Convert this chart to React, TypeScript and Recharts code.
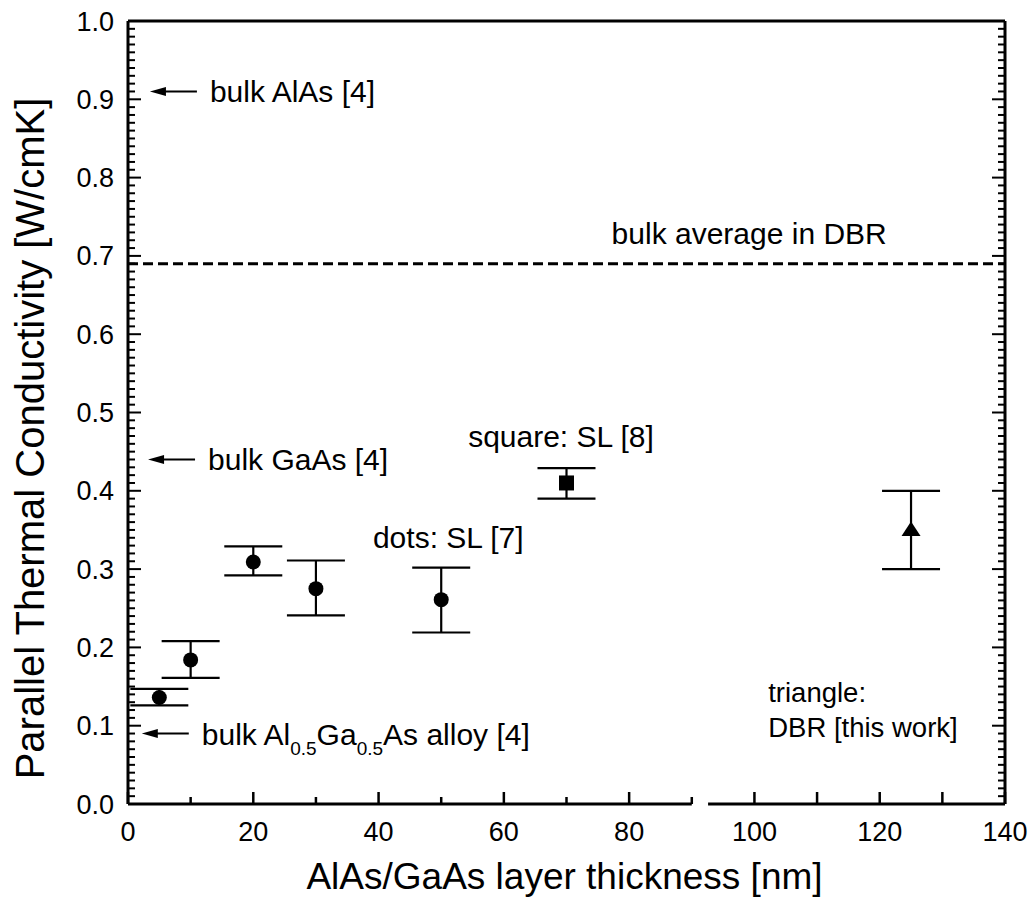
import React from 'react';
import { ScatterChart, Scatter, XAxis, YAxis, ErrorBar, ReferenceLine } from 'recharts';

const FONT = '"Liberation Sans", Arial, Helvetica, sans-serif';

// ---- data ----
const dotThickness = [5, 10, 20, 30, 50];
const dotConductivity = [0.136, 0.184, 0.309, 0.275, 0.261];
const dotErrLow = [0.010, 0.023, 0.017, 0.034, 0.042];
const dotErrHigh = [0.011, 0.024, 0.020, 0.036, 0.041];

const squareThickness = [70];
const squareConductivity = [0.41];
const squareErrLow = [0.020];
const squareErrHigh = [0.019];

const triangleThickness = [125];
const triangleConductivity = [0.35];
const triangleErrLow = [0.050];
const triangleErrHigh = [0.050];

const bulkAverageDBR = 0.69;
const bulkRefValues = [0.91, 0.44, 0.09];
const bulkRefLabels = ['bulk AlAs [4]', 'bulk GaAs [4]', 'bulk Al0.5Ga0.5As alloy [4]'];

const xTickLabels = [0, 20, 40, 60, 80, 100, 120, 140];
const yTickLabels = [0, 0.1, 0.2, 0.3, 0.4, 0.5, 0.6, 0.7, 0.8, 0.9, 1.0];

// minor tick grids (axis decoration)
const xTicksAll = Array.from({ length: 15 }, (_, i) => i * 10);
const yTicksAll = Array.from({ length: 101 }, (_, i) => i / 100);

const toRows = (xs: number[], ys: number[], lo: number[], hi: number[]) =>
  xs.map((x, i) => ({ x, y: ys[i], err: [lo[i], hi[i]] }));

const dotData = toRows(dotThickness, dotConductivity, dotErrLow, dotErrHigh);
const squareData = toRows(squareThickness, squareConductivity, squareErrLow, squareErrHigh);
const triangleData = toRows(triangleThickness, triangleConductivity, triangleErrLow, triangleErrHigh);

// arrow annotations: tip sits just right of the y axis
const arrowTipX = [3.5, 3.2, 2.2];
const arrowData = bulkRefValues.map((v, i) => ({ x: arrowTipX[i], y: v, label: bulkRefLabels[i] }));

// free text annotations (anchor = left end of baseline, in data units)
const noteData = [
  { x: 77.2, y: 0.715, label: 'bulk average in DBR' },
  { x: 54.3, y: 0.456, label: 'square: SL [8]' },
  { x: 39.1, y: 0.327, label: 'dots: SL [7]' },
];
const triangleNoteData = [
  { x: 102.2, y: 0.130, label: 'triangle:' },
  { x: 102.2, y: 0.0856, label: 'DBR [this work]' },
];

const TICK_FS = 27;
const NOTE_FS = 30;
const isMajorY = (v: number) => Math.abs(v * 10 - Math.round(v * 10)) < 1e-6;
const isMajorX = (v: number) => Math.round(v) % 20 === 0;

const BottomTick = (p: any) => {
  const v = p.payload.value;
  const ay = p.y - 18;
  const major = isMajorX(v);
  return (
    <g>
      <line x1={p.x} x2={p.x} y1={ay} y2={ay - (major || v > 90 ? 12 : 7)} stroke="#000" strokeWidth={2.5} />
      {xTickLabels.includes(v) && (
        <text x={p.x} y={p.y + 19} textAnchor="middle" fontSize={TICK_FS} fontFamily={FONT} fill="#000">
          {v}
        </text>
      )}
    </g>
  );
};

const TopTick = (p: any) => {
  const v = p.payload.value;
  const major = isMajorX(v);
  return <line x1={p.x} x2={p.x} y1={p.y} y2={p.y + (major ? 12 : 7)} stroke="#000" strokeWidth={2.5} />;
};

const LeftTick = (p: any) => {
  const v = p.payload.value;
  const ax = p.x + 14;
  const major = isMajorY(v);
  const lbl = yTickLabels.find((t) => Math.abs(t - v) < 1e-6);
  return (
    <g>
      <line x1={ax} x2={ax + (major ? 13 : 7)} y1={p.y} y2={p.y} stroke="#000" strokeWidth={2} />
      {lbl !== undefined && (
        <text x={p.x} y={p.y + 9.5} textAnchor="end" fontSize={TICK_FS} fontFamily={FONT} fill="#000">
          {lbl.toFixed(1)}
        </text>
      )}
    </g>
  );
};

const RightTick = (p: any) => {
  const v = p.payload.value;
  const major = isMajorY(v);
  return <line x1={p.x} x2={p.x - (major ? 13 : 7)} y1={p.y} y2={p.y} stroke="#000" strokeWidth={2} />;
};

const CircleShape = (p: any) => <circle cx={p.cx} cy={p.cy} r={7.5} fill="#000" />;
const SquareShape = (p: any) => <rect x={p.cx - 7.5} y={p.cy - 7.5} width={15} height={15} fill="#000" />;
const TriangleShape = (p: any) => (
  <path d={`M${p.cx},${p.cy - 8.5} L${p.cx + 9.5},${p.cy + 6} L${p.cx - 9.5},${p.cy + 6} Z`} fill="#000" />
);

const renderLabelText = (label: string) => {
  const m = label.match(/^(bulk Al)(0\.5)(Ga)(0\.5)(As alloy \[4\])$/);
  if (!m) return label;
  return [
    <tspan key="a">{m[1]}</tspan>,
    <tspan key="b" fontSize={19} dy={10}>{m[2]}</tspan>,
    <tspan key="c" dy={-10}>{m[3]}</tspan>,
    <tspan key="d" fontSize={19} dy={10}>{m[4]}</tspan>,
    <tspan key="e" dy={-10}>{m[5]}</tspan>,
  ];
};

const ArrowShape = (p: any) => {
  const { cx, cy, payload } = p;
  return (
    <g>
      <line x1={cx + 10} y1={cy} x2={cx + 47} y2={cy} stroke="#000" strokeWidth={2} />
      <path d={`M${cx},${cy} L${cx + 16},${cy - 4.5} L${cx + 16},${cy + 4.5} Z`} fill="#000" />
      <text x={cx + 60} y={cy + 11} fontSize={NOTE_FS} fontFamily={FONT} fill="#000">
        {renderLabelText(payload.label)}
      </text>
    </g>
  );
};

const NoteShape = (p: any) => (
  <text x={p.cx} y={p.cy} fontSize={NOTE_FS} fontFamily={FONT} fill="#000">
    {p.payload.label}
  </text>
);

const SmallNoteShape = (p: any) => (
  <text x={p.cx} y={p.cy} fontSize={27.5} fontFamily={FONT} fill="#000">
    {p.payload.label}
  </text>
);

const YTitle = (props: any) => {
  const vb = props.viewBox || { x: 0, y: 21, width: 128, height: 783 };
  const x = vb.x + 44;
  const y = vb.y + vb.height / 2 + 26;
  return (
    <text x={x} y={y} transform={`rotate(-90, ${x}, ${y})`} textAnchor="middle" fontSize={40} fontFamily={FONT} fill="#000">
      Parallel Thermal Conductivity [W/cmK]
    </text>
  );
};

const XTitle = (props: any) => {
  const vb = props.viewBox || { x: 128, y: 804, width: 877, height: 101 };
  const x = vb.x + vb.width / 2 - 2;
  const y = vb.y + 85;
  return (
    <text x={x} y={y} textAnchor="middle" fontSize={37} fontFamily={FONT} fill="#000">
      AlAs/GaAs layer thickness [nm]
    </text>
  );
};

export default function App() {
  return (
    <div style={{ width: 1030, height: 905, background: '#fff' }}>
      <style>{`body{margin:0;background:#fff}`}</style>
      <ScatterChart width={1030} height={905} margin={{ top: 21, right: 25, left: 0, bottom: 0 }}>
        <XAxis
          xAxisId="x"
          dataKey="x"
          type="number"
          domain={[0, 140]}
          allowDataOverflow
          ticks={xTicksAll}
          interval={0}
          height={101}
          axisLine={false}
          tickLine={false}
          tickSize={0}
          tickMargin={18}
          tick={BottomTick}
          label={{ content: XTitle }}
        />
        <XAxis
          xAxisId="top"
          orientation="top"
          mirror
          type="number"
          domain={[0, 140]}
          allowDataOverflow
          ticks={xTicksAll}
          interval={0}
          height={1}
          axisLine={{ stroke: '#000', strokeWidth: 3 }}
          tickLine={false}
          tickSize={0}
          tickMargin={0}
          tick={TopTick}
        />
        <YAxis
          yAxisId="y"
          dataKey="y"
          type="number"
          domain={[0, 1]}
          allowDataOverflow
          ticks={yTicksAll}
          interval={0}
          width={128}
          axisLine={{ stroke: '#000', strokeWidth: 3 }}
          tickLine={false}
          tickSize={0}
          tickMargin={14}
          tick={LeftTick}
          label={{ content: YTitle }}
        />
        <YAxis
          yAxisId="right"
          orientation="right"
          mirror
          type="number"
          domain={[0, 1]}
          allowDataOverflow
          ticks={yTicksAll}
          interval={0}
          width={1}
          axisLine={{ stroke: '#000', strokeWidth: 3 }}
          tickLine={false}
          tickSize={0}
          tickMargin={0}
          tick={RightTick}
        />

        <ReferenceLine
          xAxisId="x"
          yAxisId="y"
          segment={[{ x: 0, y: 0 }, { x: 90, y: 0 }]}
          stroke="#000"
          strokeWidth={3}
          ifOverflow="visible"
        />
        <ReferenceLine
          xAxisId="x"
          yAxisId="y"
          segment={[{ x: 92.6, y: 0 }, { x: 140, y: 0 }]}
          stroke="#000"
          strokeWidth={3}
          ifOverflow="visible"
        />
        <ReferenceLine
          xAxisId="x"
          yAxisId="y"
          y={bulkAverageDBR}
          stroke="#000"
          strokeWidth={3}
          strokeDasharray="10 5"
          ifOverflow="visible"
        />

        <Scatter xAxisId="x" yAxisId="y" data={dotData} shape={CircleShape} isAnimationActive={false}>
          <ErrorBar dataKey="err" direction="y" width={29} strokeWidth={2.2} stroke="#000" isAnimationActive={false} />
        </Scatter>
        <Scatter xAxisId="x" yAxisId="y" data={squareData} shape={SquareShape} isAnimationActive={false}>
          <ErrorBar dataKey="err" direction="y" width={29} strokeWidth={2.2} stroke="#000" isAnimationActive={false} />
        </Scatter>
        <Scatter xAxisId="x" yAxisId="y" data={triangleData} shape={TriangleShape} isAnimationActive={false}>
          <ErrorBar dataKey="err" direction="y" width={29} strokeWidth={2.2} stroke="#000" isAnimationActive={false} />
        </Scatter>
        <Scatter xAxisId="x" yAxisId="y" data={arrowData} shape={ArrowShape} isAnimationActive={false} />
        <Scatter xAxisId="x" yAxisId="y" data={noteData} shape={NoteShape} isAnimationActive={false} />
        <Scatter xAxisId="x" yAxisId="y" data={triangleNoteData} shape={SmallNoteShape} isAnimationActive={false} />
      </ScatterChart>
    </div>
  );
}
